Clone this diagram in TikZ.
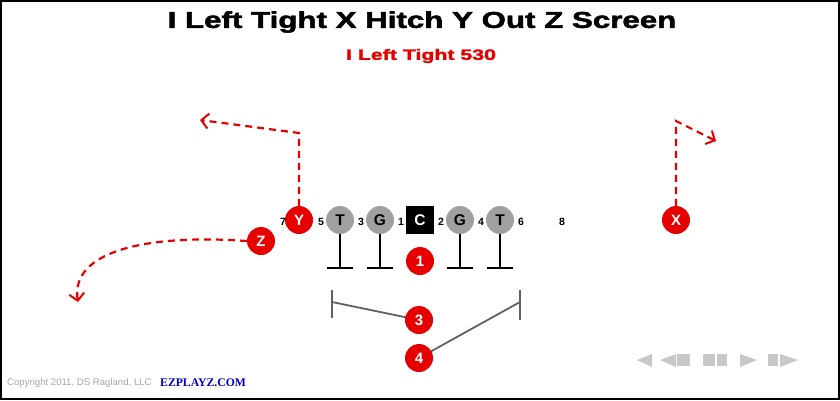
\documentclass[tikz,border=0pt]{standalone}
\usepackage{fontspec}
\setmainfont{Liberation Sans}
\newfontfamily\heavyfont[FakeBold=1.8]{Liberation Sans Bold}
\newfontfamily\serifbold{Liberation Serif}
\usetikzlibrary{arrows.meta}
\definecolor{pred}{RGB}{230,0,0}
\definecolor{lgray}{RGB}{160,160,160}
\definecolor{navgray}{RGB}{200,200,200}
\definecolor{ezblue}{RGB}{0,0,200}
\tikzset{
  player/.style={circle,fill=pred,minimum size=28pt,inner sep=0pt,text=white,font=\fontsize{15}{15}\selectfont\bfseries},
  lineman/.style={circle,fill=lgray,minimum size=28pt,inner sep=0pt,text=black,font=\fontsize{15.5}{15.5}\selectfont\bfseries},
  center/.style={rectangle,fill=black,minimum size=28pt,inner sep=0pt,text=white,font=\fontsize{15.5}{15.5}\selectfont\bfseries},
  gap/.style={font=\fontsize{10.5}{10.5}\selectfont\bfseries,inner sep=0pt},
  route/.style={draw=pred,line width=2.2pt,dash pattern=on 7pt off 5pt,-{Straight Barb[length=7pt,width=15pt,line width=2pt]}},
  block/.style={line width=2.6pt,black},
  bracket/.style={line width=1.8pt,color=black!62},
  nav/.style={fill=navgray,draw=none}
}
\begin{document}
\begin{tikzpicture}[x=1pt,y=-1pt]
\useasboundingbox (0,0) rectangle (840,400);
\draw[line width=2pt] (1,1) rectangle (839,399);
\node[font=\fontsize{23}{23}\heavyfont] (title) at (422,22) {\scalebox{1.36}[1]{I Left Tight X Hitch Y Out Z Screen}};
\node[font=\fontsize{15}{15}\heavyfont,text=pred] (sub) at (421,56) {\scalebox{1.42}[1]{I Left Tight 530}};
% line
\node[player] (Y) at (299,220) {Y};
\node[lineman] (LT) at (340,220) {T};
\node[lineman] (LG) at (380,220) {G};
\node[center] (C) at (420,220) {C};
\node[lineman] (RG) at (460,220) {G};
\node[lineman] (RT) at (500,220) {T};
\node[player] (X) at (676,220) {X};
\node[player] (Z) at (261,241) {Z};
\node[player] (B1) at (420,261) {1};
% gap numbers
\node[gap] (g7) at (283,222) {7};
\node[gap] (g5) at (321,222) {5};
\node[gap] (g3) at (361,222) {3};
\node[gap] (g1) at (401,222) {1};
\node[gap] (g2) at (441,222) {2};
\node[gap] (g4) at (481,222) {4};
\node[gap] (g6) at (521,222) {6};
\node[gap] (g8) at (562,222) {8};
% blocks
\foreach \n in {LT,LG,RG,RT}{
  \coordinate (\n b) at ([yshift=-48pt]\n.center);
  \draw[block] (\n.south) -- (\n b);
  \draw[block] ([xshift=-13pt]\n b) -- ([xshift=13pt]\n b);
}
% routes
\coordinate (ybreak) at (299,133);
\coordinate (yend) at (200,120);
\draw[route] (Y.north) -- (ybreak) -- (yend);
\coordinate (xbreak) at (676,121);
\coordinate (xend) at (716,141);
\draw[route] (X.north) -- (xbreak) -- (xend);
\coordinate (zend) at (78,302);
\draw[route] (Z.west) .. controls (150,234) and (70,250) .. (zend);
% backfield brackets
\coordinate (lb1) at (332,290);
\coordinate (lb2) at (332,318);
\coordinate (lbm) at (332,302);
\coordinate (rb1) at (520,290);
\coordinate (rb2) at (520,320);
\coordinate (rbm) at (520,302);
\coordinate (B3c) at (419,320);
\coordinate (B4c) at (419,358);
\draw[bracket] (lb1) -- (lb2);
\draw[bracket] (lbm) -- (B3c);
\draw[bracket] (rb1) -- (rb2);
\draw[bracket] (rbm) -- (B4c);
\node[player] (B3) at (B3c) {3};
\node[player] (B4) at (B4c) {4};
% nav icons
\fill[nav] (637,360) -- (652,354) -- (652,367) -- cycle;
\fill[nav] (660,360) -- (676,354) -- (676,367) -- cycle;
\fill[nav] (677,354) rectangle (690,366);
\fill[nav] (703,354) rectangle (715,366);
\fill[nav] (717,354) rectangle (727,366);
\fill[nav] (740,354) -- (757,360) -- (740,367) -- cycle;
\fill[nav] (768,354) rectangle (778,366);
\fill[nav] (780,354) -- (798,360) -- (780,367) -- cycle;
% footer
\node[anchor=west,text=black!35,font=\fontsize{9.6}{9.6}\selectfont,inner sep=0pt] (copy) at (7,383) {Copyright 2011, DS Ragland, LLC};
\node[anchor=west,text=ezblue,font=\fontsize{11.7}{11.7}\serifbold\bfseries,inner sep=0pt] (ez) at (160,383) {EZPLAYZ.COM};
\end{tikzpicture}
\end{document}
